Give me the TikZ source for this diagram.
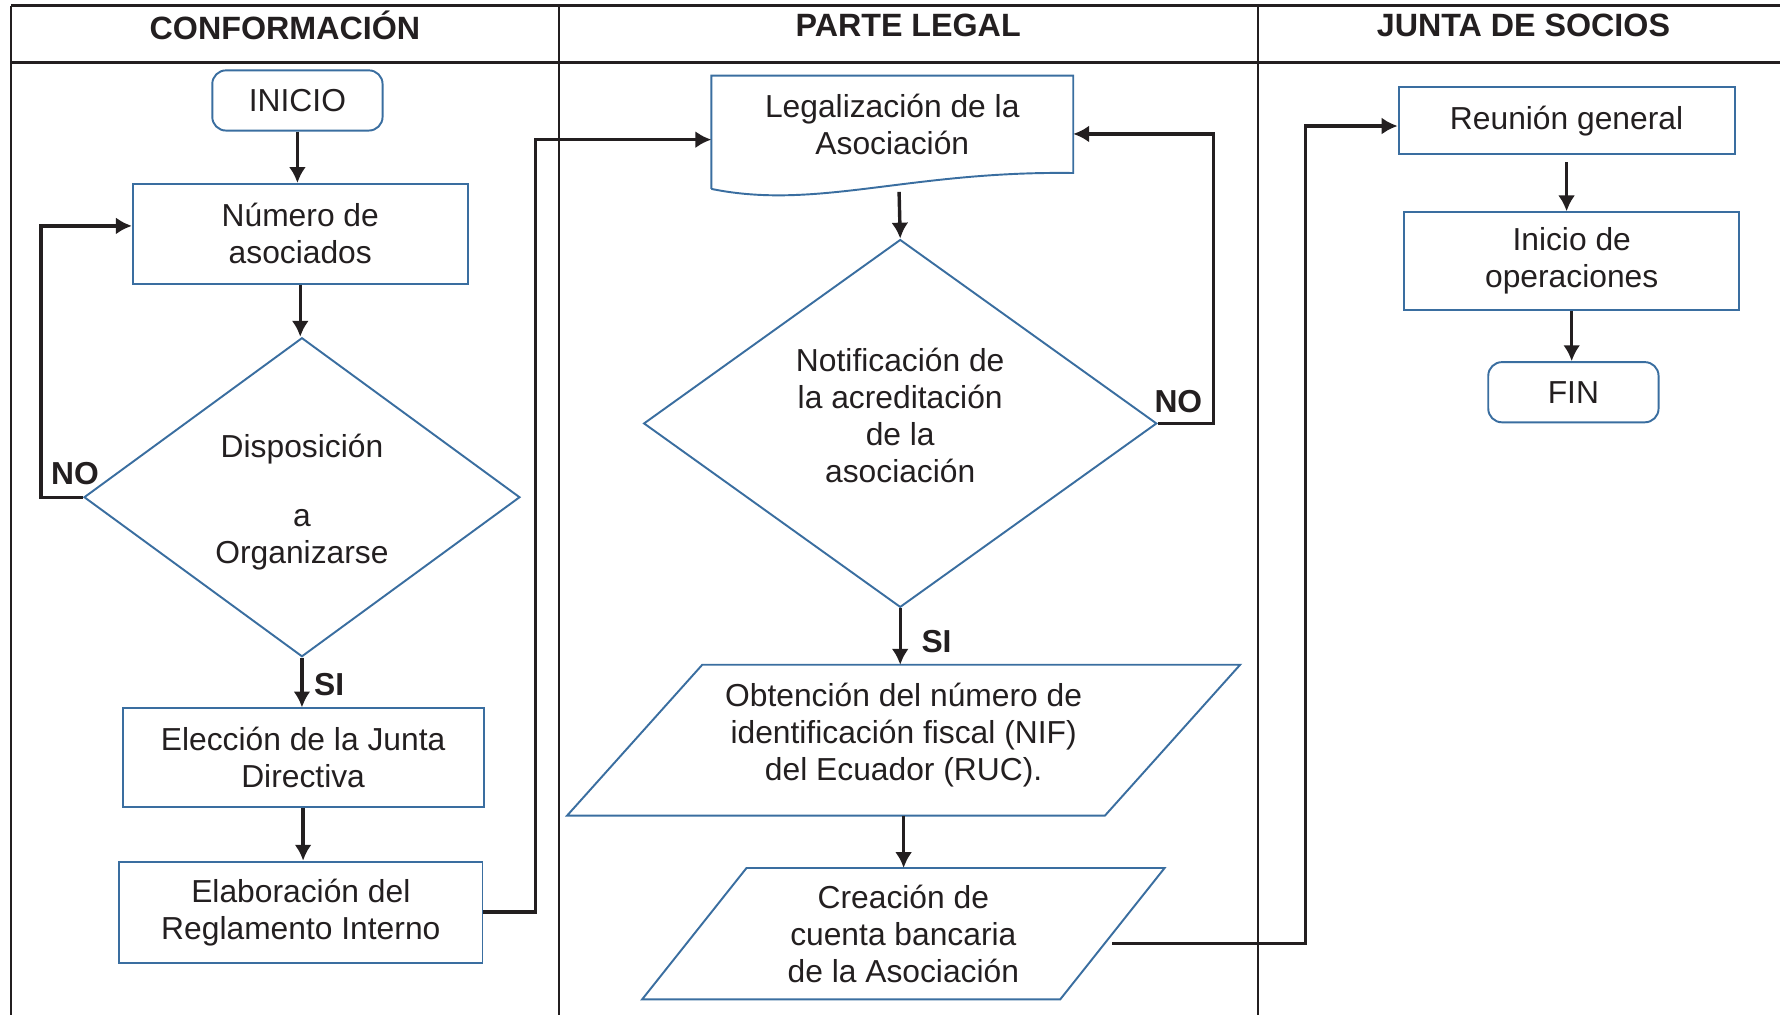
\documentclass[tikz,border=0pt]{standalone}
\usepackage{fontspec}
\setmainfont{Liberation Sans}
\usetikzlibrary{shapes,arrows.meta,positioning,calc}
\definecolor{boxblue}{RGB}{58,110,160}
\definecolor{inkblack}{RGB}{35,31,32}
\newcommand{\flowfont}{\fontsize{14}{16.3}\selectfont}

\begin{document}
\begin{tikzpicture}[x=0.5pt, y=-0.5pt,
    box/.style={draw=boxblue, line width=0.85pt, align=center, font=\flowfont, text=inkblack, inner sep=2pt},
    endbox/.style={box, rounded corners=6pt, minimum width=75pt, minimum height=26.5pt},
    decision/.style={box, diamond, inner sep=0pt},
    textonly/.style={font=\flowfont, text=inkblack, align=center, inner sep=0pt},
    outline/.style={draw=boxblue, line width=0.85pt},
    link/.style={line width=1.5pt, draw=inkblack, -{Latex[length=7pt,width=7.5pt]}},
    answer/.style={font=\flowfont\bfseries, text=inkblack, inner sep=0pt},
    lane/.style={font=\fontsize{14.2}{16}\selectfont\bfseries, text=inkblack}]

    \useasboundingbox (0,0) rectangle (1568,894);

    % Table
    \draw[line width=1.3pt, inkblack] (10,5) -- (1568,5);
    \draw[line width=1.3pt, inkblack] (10,55) -- (1568,55);
    \draw[line width=0.9pt, inkblack] (10,5) -- (10,894);
    \draw[line width=0.9pt, inkblack] (492,5) -- (492,894);
    \draw[line width=0.9pt, inkblack] (1108,5) -- (1108,894);
    \node[lane] (h1) at (251,22) {CONFORMACIÓN};
    \node[lane] (h2) at (800,22) {PARTE LEGAL};
    \node[lane] (h3) at (1342,22) {JUNTA DE SOCIOS};

    % Conformacion
    \node[endbox] (ini) at (262,88.5) {INICIO};
    \node[box, minimum width=147.5pt, minimum height=44pt] (num) at (264.5,206) {Número de\\asociados};
    \node[decision, minimum width=192pt, minimum height=140.5pt] (d1) at (266,438) {Disposición\\[14pt]a\\Organizarse\\[-18pt]};
    \node[box, minimum width=159pt, minimum height=43.5pt] (ele) at (267,667.5) {Elección de la Junta\\Directiva};
    \node[box, minimum width=160pt, minimum height=44.5pt] (ela) at (265,803.5) {Elaboración del\\Reglamento Interno};
    \node[answer] (no1) at (66,417) {NO};
    \node[answer] (si1) at (290,603) {SI};

    \draw[link] (ini.south) -- (ini.south |- num.north);
    \draw[link] (num.south) -- (num.south |- d1.north);
    \draw[link] (d1.west) -- ++(-37,0) |- ([yshift=3.5pt]num.west);
    \draw[link] (d1.south) -- (d1.south |- ele.north);
    \draw[link] (ele.south) -- (ele.south |- ela.north);

    % Parte legal
    \node[textonly, minimum width=159pt, minimum height=42.5pt] (leg) at (786,109.5) {Legalización de la\\Asociación};
    \draw[outline] (leg.south west) ++(0,14) -- (leg.north west) -- (leg.north east) -- (leg.south east)
        .. controls ++(-145,-2) and ++(93,19) .. ($(leg.south west)+(0,14)$);
    \coordinate (legb) at (792,169);
    \node[decision, minimum width=226pt, minimum height=162pt] (d2) at (793,373) {Notificación de\\la acreditación\\de la\\asociación\\[-9pt]};
    \node[textonly, minimum width=236.5pt, minimum height=66pt] (obt) at (796,652) {Obtención del número de\\identificación fiscal (NIF)\\del Ecuador (RUC).\\[-9pt]};
    \draw[outline] ($(obt.south west)+(-59.5,0)$) -- ($(obt.north west)+(59.5,0)$) -- ($(obt.north east)+(59.5,0)$)
        -- ($(obt.south east)+(-59.5,0)$) -- cycle;
    \node[textonly, minimum width=183.75pt, minimum height=57.5pt] (cre) at (795.75,822.5) {Creación de\\cuenta bancaria\\de la Asociación};
    \draw[outline] ($(cre.south west)+(-46,0)$) -- ($(cre.north west)+(46,0)$) -- ($(cre.north east)+(46,0)$)
        -- ($(cre.south east)+(-46,0)$) -- cycle;
    \node[answer] (no2) at (1038,354) {NO};
    \node[answer] (si2) at (825,565) {SI};

    \draw[link] (ela.east) -- ++(46,0) |- ([yshift=-6.75pt]leg.west);
    \draw[link] (legb) -- (d2.north);
    \draw[link] (d2.east) -- ++(49,0) |- ([yshift=-4.25pt]leg.east);
    \draw[link] (d2.south) -- (d2.south |- obt.north);
    \draw[link] (obt.south) -- (obt.south |- cre.north);

    % Junta de socios
    \node[box, minimum width=148pt, minimum height=29.5pt] (reu) at (1380,106.5) {Reunión general};
    \node[box, minimum width=147.5pt, minimum height=43pt] (ope) at (1384.5,230) {Inicio de\\operaciones};
    \node[endbox] (fin) at (1386,345.5) {FIN};

    \draw[link] ([yshift=-4.25pt]cre.east) -- ++(170,0) |- ([yshift=-2.25pt]reu.west);
    \draw[link] ([yshift=-3pt]reu.south) -- (reu.south |- ope.north);
    \draw[link] (ope.south) -- (ope.south |- fin.north);
\end{tikzpicture}
\end{document}
